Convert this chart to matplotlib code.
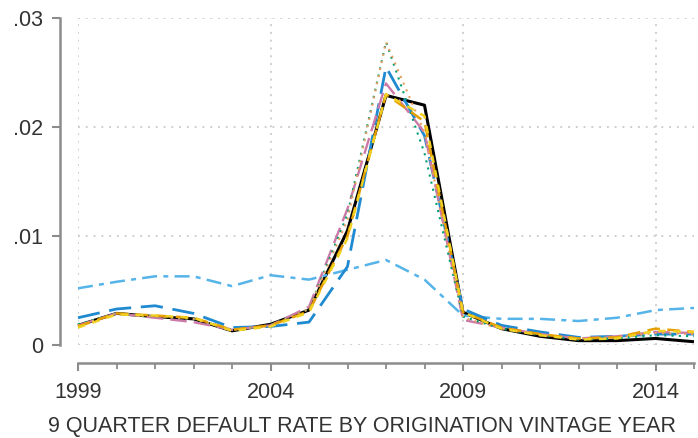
import matplotlib.pyplot as plt
from matplotlib.ticker import MultipleLocator, FixedLocator

plt.rcParams['font.family'] = ['Liberation Sans', 'DejaVu Sans']

years = list(range(1999, 2016))

# 9-quarter default rate by vintage, one series per model/segment
black = [.0018, .0029, .0026, .0024, .0013, .0019, .0032, .0105, .0229, .0220,
         .0030, .0015, .0008, .0004, .0004, .0006, .0003]
orange = [.0017, .0029, .0027, .0025, .0014, .0018, .0031, .0100, .0230, .0205,
          .0030, .0016, .0010, .0006, .0007, .0015, .0012]
skyblue = [.0052, .0058, .0063, .0063, .0054, .0064, .0060, .0069, .0078, .0060,
           .0027, .0024, .0024, .0022, .0025, .0032, .0034]
green = [.0019, .0029, .0026, .0024, .0014, .0018, .0033, .0120, .0278, .0176,
         .0026, .0015, .0009, .0005, .0006, .0009, .0008]
yellow = [.0016, .0028, .0027, .0025, .0013, .0017, .0030, .0098, .0230, .0210,
          .0030, .0015, .0009, .0005, .0006, .0013, .0012]
blue = [.0025, .0033, .0036, .0029, .0016, .0017, .0021, .0072, .0255, .0192,
        .0033, .0018, .0012, .0007, .0008, .0010, .0010]
vermillion = [.0018, .0029, .0026, .0024, .0014, .0018, .0033, .0115, .0278, .0195,
              .0025, .0015, .0009, .0006, .0007, .0011, .0010]
pink = [.0018, .0029, .0025, .0021, .0014, .0018, .0035, .0125, .0240, .0195,
        .0023, .0016, .0010, .0006, .0008, .0012, .0011]

W, H = 698, 438
fig = plt.figure(figsize=(W / 100, H / 100), dpi=100)
ax = fig.add_axes([78 / W, (H - 345) / H, (694 - 78) / W, (345 - 18) / H])

axis_col = '#8c8c8c'
text_col = '#333333'

ax.set_xlim(1999, 2015)
ax.set_ylim(0, 0.03)

# gridlines
for gx in [1999, 2004, 2009, 2014]:
    ax.axvline(gx, color='#cfcfcf', lw=1.4, ls=(0, (1, 3)), zorder=0)
for gy in [0, .01, .02, .03]:
    ax.axhline(gy, color='#cfcfcf', lw=1.4, ls=(0, (1, 3)), zorder=0)

kw = dict(clip_on=False, solid_capstyle='butt', dash_capstyle='butt')
ax.plot(years, black, color='black', lw=2.2, **kw)
ax.plot(years, skyblue, color='#56B4E9', lw=1.8, ls=(0, (6, 2.5, 2, 2.5)), **kw)
ax.plot(years, blue, color='#1f8ad0', lw=2.0, ls=(0, (8, 3.5)), **kw)
ax.plot(years, pink, color='#CC79A7', lw=1.7, ls=(0, (7, 3)), **kw)
ax.plot(years, green, color='#009E73', lw=1.5, ls=(0, (1, 2.5)), **kw)
ax.plot(years, vermillion, color='#E69F60', lw=1.5, ls=(0, (1, 2.5)), **kw)
ax.plot(years, orange, color='#E69F00', lw=1.8, ls=(0, (5, 3)), **kw)
ax.plot(years, yellow, color='#F0D020', lw=1.8, ls=(0, (3, 3)), **kw)

for s in ['top', 'right']:
    ax.spines[s].set_visible(False)
ax.spines['left'].set_position(('outward', 13))
ax.spines['bottom'].set_position(('outward', 13))
for s in ['left', 'bottom']:
    ax.spines[s].set_color(axis_col)
    ax.spines[s].set_linewidth(1.8)

ax.yaxis.set_major_locator(FixedLocator([0, .01, .02, .03]))
ax.set_yticklabels(['0', '.01', '.02', '.03'])
ax.xaxis.set_major_locator(FixedLocator([1999, 2004, 2009, 2014]))
ax.xaxis.set_minor_locator(MultipleLocator(1))

ax.tick_params(axis='y', length=6, width=1.5, color=axis_col, labelsize=15.5,
               labelcolor=text_col, pad=6)
ax.tick_params(axis='x', which='major', length=6, width=1.5, color=axis_col,
               labelsize=15.5, labelcolor=text_col, pad=8)
ax.tick_params(axis='x', which='minor', length=4, width=1.3, color=axis_col)

fig.text(362 / W, 6 / H, '9 QUARTER DEFAULT RATE BY ORIGINATION VINTAGE YEAR',
         ha='center', va='baseline', fontsize=15.5, color=text_col)

fig.savefig('out.png', dpi=100)
